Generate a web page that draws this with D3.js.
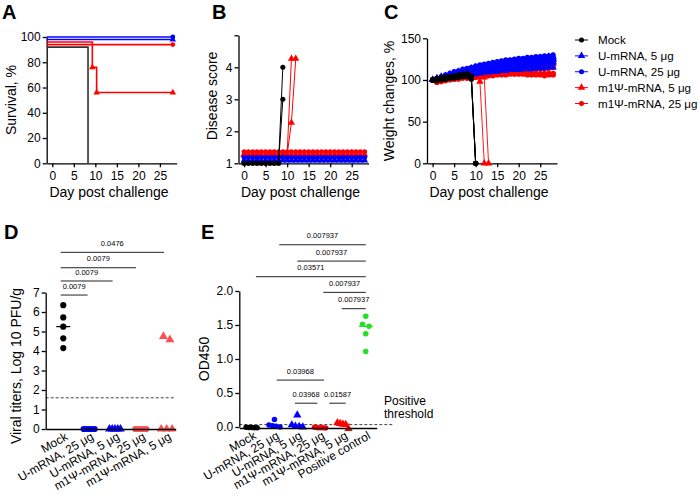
<!DOCTYPE html>
<html><head><meta charset="utf-8">
<script src="https://cdn.jsdelivr.net/npm/d3@7/dist/d3.min.js"></script>
<style>
body{margin:0;background:#fff;}
svg text{font-family:Arial,"Liberation Sans",Helvetica,sans-serif;}
</style></head><body>
<svg id="chart" width="700" height="500"></svg>
<script>
// ================= DATA =================
const groupNames = ["Mock","U-mRNA, 5 μg","U-mRNA, 25 μg","m1Ψ-mRNA, 5 μg","m1Ψ-mRNA, 25 μg"];
const groupKeys  = ["mock","u5","u25","m5","m25"];
const dayTicks = [0,5,10,15,20,25];
const days = [0,1,2,3,4,5,6,7,8,9,10,11,12,13,14,15,16,17,18,19,20,21,22,23,24,25,26,27,28];

// A: survival (day, %) step points per group
const survMockDays = [0, 8.3];          const survMockPct = [100, 0];
const survU5Days   = [0, 28];           const survU5Pct   = [100, 100];
const survU25Days  = [0, 28];           const survU25Pct  = [100, 100];
const survM5Days   = [0, 9.3, 10.3, 28];const survM5Pct   = [100, 80, 60, 60];
const survM25Days  = [0, 28];           const survM25Pct  = [100, 100];
const survNudge = [-8, -2, 0, -4, -6];   // offsets the figure uses to separate overlapping curves
const survTicks = [0,20,40,60,80,100];

// B: disease score per mouse (index = day)
const scoreMock1 = [1,1,1,1,1,1,1,1,1,4];
const scoreMock2 = [1,1,1,1,1,1,1,1,1,3];
const scoreU5    = [1,1,1,1,1,1,1,1,1,1,1,1,1,1,1,1,1,1,1,1,1,1,1,1,1,1,1,1,1];
const scoreU25   = [1,1,1,1,1,1,1,1,1,1,1,1,1,1,1,1,1,1,1,1,1,1,1,1,1,1,1,1,1];
const scoreM5    = [1,1,1,1,1,1,1,1,1,1,1,1,1,1,1,1,1,1,1,1,1,1,1,1,1,1,1,1,1];
const scoreM5a   = [1,1,1,1,1,1,1,1,1,1,1,4];
const scoreM5b   = [1,1,1,1,1,1,1,1,1,1,1,2,4];
const scoreM25   = [1,1,1,1,1,1,1,1,1,1,1,1,1,1,1,1,1,1,1,1,1,1,1,1,1,1,1,1,1];
const scoreNudge = [0, 0.09, 0.18, 0.27, 0.36];
const scoreTicks = [1,2,3,4,5];

// C: weight change % per mouse (index = day)
const weightMock = [
 [100,101,102,101,103,104,104,105,106,104,0],
 [100,99,101,102,102,103,105,106,107,103,0],
 [100,102,103,104,103,105,106,107,108,105,0],
 [100,100,100,101,102,102,103,104,104,102,0],
 [100,101,101,103,104,103,104,106,105,101,0]
];
const weightU5 = [
 [100,101,103,104,106,107,108,109,110,111,113,114,115,116,117,118,118,119,120,121,122,122,123,123,124,125,125,126,126],
 [100,100,101,102,103,104,105,106,107,108,109,110,111,112,112,113,114,115,115,116,117,117,118,118,119,120,120,121,121],
 [100,102,104,105,107,108,110,111,112,114,115,116,117,118,119,120,121,121,122,123,124,124,125,125,126,127,127,128,128],
 [100,101,101,102,103,103,104,105,106,107,107,108,109,109,110,110,111,111,112,112,112,113,113,113,114,114,114,115,115],
 [100,101,102,103,104,105,106,107,108,109,110,111,112,113,114,115,115,116,117,118,119,119,120,121,122,122,123,124,124]
];
const weightU25 = [
 [100,101,103,104,105,107,108,109,110,112,113,114,115,116,117,118,119,120,121,122,122,123,124,124,125,126,126,127,127],
 [100,102,103,104,105,106,107,108,109,111,112,112,113,114,115,116,117,117,118,119,120,120,121,122,122,123,124,124,125],
 [100,101,102,103,104,104,105,106,107,108,109,110,111,112,113,113,114,115,115,116,117,118,118,119,120,120,121,121,122],
 [100,102,104,106,108,110,111,113,114,115,117,118,119,120,121,122,123,124,124,125,126,126,127,127,128,128,129,129,130],
 [100,101,102,102,103,104,105,106,106,107,108,109,110,110,111,112,113,113,114,115,115,116,117,117,118,118,119,119,120]
];
const weightM5 = [
 [100,101,102,103,104,105,106,107,107,106,104,98,0],
 [100,100,101,102,103,104,105,106,107,106,105,104,103,0],
 [100,101,102,103,105,106,108,110,111,111,112,112,113,114,115,116,117,117,118,119,120,120,121,122,122,123,124,124,125],
 [100,102,103,104,105,106,107,108,109,109,110,111,112,113,114,114,115,116,116,117,118,118,119,119,120,121,121,122,122],
 [100,101,101,102,103,104,105,106,106,107,108,109,110,111,111,112,113,113,114,115,115,116,116,117,117,118,118,119,119]
];
const weightM25 = [
 [100,98,99,100,101,102,102,103,103,104,104,105,105,106,106,107,107,107,108,108,108,108,108,107,107,107,106,107,107],
 [100,97,98,99,100,101,101,102,102,103,103,104,104,105,105,106,106,106,107,107,107,107,106,106,106,106,105,106,106],
 [100,99,100,101,102,103,104,105,106,106,107,107,108,109,109,110,110,111,111,112,112,112,113,113,113,114,114,114,115],
 [100,98,99,100,101,101,102,103,103,104,105,105,106,106,107,107,108,108,108,109,109,109,109,108,108,108,108,108,108],
 [100,100,101,102,103,104,105,106,107,108,109,110,111,112,113,114,115,115,116,117,117,118,118,119,119,120,120,120,121]
];
const weightTicks = [0,50,100,150];

// D: viral titers (log10 PFU/g)
const titerCats = ["Mock","U-mRNA, 25 μg","U-mRNA, 5 μg","m1Ψ-mRNA, 25 μg","m1Ψ-mRNA, 5 μg"];
const titerMock = [6.35,5.72,5.25,4.65,4.15];
const titerU25  = [0,0,0,0,0];
const titerU5   = [0,0,0,0,0];
const titerM25  = [0,0,0,0,0];
const titerM5   = [4.75,4.58,0,0,0];
const titerLOD  = 1.6;
const titerTicks = [0,1,2,3,4,5,6,7];
const sigDFrom  = ["Mock","Mock","Mock","Mock"];
const sigDTo    = ["U-mRNA, 25 μg","U-mRNA, 5 μg","m1Ψ-mRNA, 25 μg","m1Ψ-mRNA, 5 μg"];
const sigDP     = ["0.0079","0.0079","0.0079","0.0476"];
const sigDLevel = [6.87, 7.59, 8.27, 9.06];

// E: OD450
const odCats = ["Mock","U-mRNA, 25 μg","U-mRNA, 5 μg","m1Ψ-mRNA, 25 μg","m1Ψ-mRNA, 5 μg","Positive control"];
const odMock = [-0.01,-0.005,-0.01,-0.008,-0.006];
const odU25  = [0.11,0.03,0.02,0.01,0.0];
const odU5   = [0.175,0.03,0.01,0.005,0.0];
const odM25  = [-0.01,-0.01,-0.005,-0.015,-0.01];
const odM5   = [0.06,0.05,0.04,0.035,-0.025];
const odPC   = [1.63,1.51,1.48,1.37,1.11];
const odThreshold = 0.035;
const odTicks = [0,0.5,1.0,1.5,2.0];
const sigEFrom  = ["U-mRNA, 25 μg","U-mRNA, 5 μg","Mock","m1Ψ-mRNA, 25 μg","m1Ψ-mRNA, 5 μg","U-mRNA, 25 μg","U-mRNA, 5 μg","m1Ψ-mRNA, 25 μg"];
const sigETo    = ["Positive control","Positive control","Positive control","Positive control","Positive control","m1Ψ-mRNA, 25 μg","m1Ψ-mRNA, 25 μg","m1Ψ-mRNA, 5 μg"];
const sigEP     = ["0.007937","0.007937","0.03571","0.007937","0.007937","0.03968","0.03968","0.01587"];
const sigELevel = [2.68, 2.44, 2.21, 1.98, 1.74, 0.69, 0.35, 0.35];

// ================= STYLE / LAYOUT =================
const FONT = 'Arial, "Liberation Sans", Helvetica, sans-serif';
const BLUE = "#0000ff", RED = "#ff0000", GREEN = "#22e022";
const gColor = {mock:"#000000", u5:BLUE, u25:BLUE, m5:RED, m25:RED};
const gSym = {mock:d3.symbolCircle, u5:d3.symbolTriangle, u25:d3.symbolCircle, m5:d3.symbolTriangle, m25:d3.symbolCircle};
// pixel trims of the comparison bar ends (as drawn in the figure)
const sigDTrim = [[-2.6,-1.5],[-2.6,-2.3],[-2.6,-4.8],[-2.6,-2.7]];
const sigETrim = [[4.8,0],[0,0],[4.3,0],[3.2,0],[-1.2,0],[2.2,3.9],[-2.3,-2.8],[9.2,2.8]];
const svg = d3.select("#chart");

function styleAxis(g){
  g.attr("font-family", FONT).attr("font-size", 12);
  g.selectAll("path.domain").attr("stroke","#000").attr("stroke-width",1.3);
  g.selectAll(".tick line").attr("stroke","#000").attr("stroke-width",1.3);
  g.selectAll(".tick text").attr("fill","#000");
}
function label(x, y, str, size, opts={}){
  const t = svg.append("text").attr("x",x).attr("y",y).text(str)
    .attr("font-size",size).attr("fill","#000")
    .attr("text-anchor", opts.anchor || "start");
  if (opts.bold) t.attr("font-weight","bold");
  if (opts.rotate) t.attr("transform",`rotate(${opts.rotate},${x},${y})`);
  return t;
}
function sym(g, type, size, x, y, color){
  g.append("path").attr("d", d3.symbol().type(type).size(size)())
   .attr("transform",`translate(${x},${y})`).attr("fill",color);
}

// ================= PANEL A =================
const xA = d3.scaleLinear().domain([-1.3, 28.9]).range([46.7, 176.7]);
const yA = d3.scaleLinear().domain([0, 100]).range([163.3, 37]);
svg.append("g").attr("transform",`translate(0,${yA(0)})`)
  .call(d3.axisBottom(xA).tickValues(dayTicks).tickSize(4).tickSizeOuter(0).tickPadding(4)).call(styleAxis);
svg.append("g").attr("transform",`translate(${xA.range()[0]},0)`)
  .call(d3.axisLeft(yA).tickValues(survTicks).tickSize(4).tickSizeOuter(0).tickPadding(2)).call(styleAxis);

const survSets = [
  {k:"mock", d:survMockDays, p:survMockPct, n:survNudge[0]},
  {k:"u5",   d:survU5Days,   p:survU5Pct,   n:survNudge[1]},
  {k:"u25",  d:survU25Days,  p:survU25Pct,  n:survNudge[2]},
  {k:"m5",   d:survM5Days,   p:survM5Pct,   n:survNudge[3]},
  {k:"m25",  d:survM25Days,  p:survM25Pct,  n:survNudge[4]}
];
const gA = svg.append("g");
const stepLine = d3.line().curve(d3.curveStepAfter);
survSets.slice().reverse().forEach(s => {
  const pts = s.d.map((d,i) => [i===0 ? xA.domain()[0] : d, Math.max(0, s.p[i] + s.n)]);
  gA.append("path").attr("d", stepLine(pts.map(q => [xA(q[0]), yA(q[1])])))
    .attr("fill","none").attr("stroke", s.k==="mock" ? "#333" : gColor[s.k]).attr("stroke-width",1.6);
  if (s.k !== "mock") {
    s.d.forEach((d,i) => { if (i>0) sym(gA, gSym[s.k], 18, xA(d), yA(Math.max(0, s.p[i]+s.n)), gColor[s.k]); });
  }
});
label(2, 19, "A", 20, {bold:true});
label(15.5, 100, "Survival, %", 14, {anchor:"middle", rotate:-90});
label(109, 196.5, "Day post challenge", 14, {anchor:"middle"});

// ================= PANEL B =================
const xB = d3.scaleLinear().domain([-1.3, 28.9]).range([238.5, 368.5]);
const yB = d3.scaleLinear().domain([1, 5]).range([163.3, 35.3]);
svg.append("g").attr("transform",`translate(0,${yB(1)})`)
  .call(d3.axisBottom(xB).tickValues(dayTicks).tickSize(4).tickSizeOuter(0).tickPadding(4)).call(styleAxis);
svg.append("g").attr("transform",`translate(${xB.range()[0]},0)`)
  .call(d3.axisLeft(yB).tickValues(scoreTicks).tickFormat(d => d===5 ? "" : d).tickSize(4).tickSizeOuter(0).tickPadding(2)).call(styleAxis);

const scoreSets = [
  {k:"m25", v:scoreM25, n:scoreNudge[4]},
  {k:"m5",  v:scoreM5,  n:scoreNudge[3]},
  {k:"m5",  v:scoreM5a, n:scoreNudge[3]},
  {k:"m5",  v:scoreM5b, n:scoreNudge[3]},
  {k:"u25", v:scoreU25, n:scoreNudge[2]},
  {k:"u5",  v:scoreU5,  n:scoreNudge[1]},
  {k:"mock",v:scoreMock1, n:scoreNudge[0]},
  {k:"mock",v:scoreMock2, n:scoreNudge[0]}
];
const gB = svg.append("g");
const lineB = d3.line().x((v,i) => xB(days[i]));
scoreSets.forEach(s => {
  gB.append("path").attr("d", lineB.y(v => yB(v + s.n))(s.v))
    .attr("fill","none").attr("stroke",gColor[s.k]).attr("stroke-width",1);
  s.v.forEach((v,i) => sym(gB, gSym[s.k], gSym[s.k]===d3.symbolCircle ? 20 : 22, xB(days[i]), yB(v + s.n), gColor[s.k]));
});
label(212, 19, "B", 20, {bold:true});
label(217, 96, "Disease score", 14, {anchor:"middle", rotate:-90});
label(300.5, 196.5, "Day post challenge", 14, {anchor:"middle"});

// ================= PANEL C =================
const xC = d3.scaleLinear().domain([-1.3, 28.9]).range([427, 557]);
const yC = d3.scaleLinear().domain([0, 150]).range([163.3, 38.3]);
svg.append("g").attr("transform",`translate(0,${yC(0)})`)
  .call(d3.axisBottom(xC).tickValues(dayTicks).tickSize(4).tickSizeOuter(0).tickPadding(4)).call(styleAxis);
svg.append("g").attr("transform",`translate(${xC.range()[0]},0)`)
  .call(d3.axisLeft(yC).tickValues(weightTicks).tickSize(4).tickSizeOuter(0).tickPadding(2)).call(styleAxis);

const weightSets = [
  {k:"m25", m:weightM25}, {k:"m5", m:weightM5}, {k:"u5", m:weightU5}, {k:"u25", m:weightU25}, {k:"mock", m:weightMock}
];
const gC = svg.append("g");
const lineC = d3.line().x((v,i) => xC(days[i])).y(v => yC(v));
weightSets.forEach(s => {
  s.m.forEach(mouse => {
    gC.append("path").attr("d", lineC(mouse)).attr("fill","none")
      .attr("stroke",gColor[s.k]).attr("stroke-width",0.9);
    mouse.forEach((v,i) => sym(gC, gSym[s.k], gSym[s.k]===d3.symbolCircle ? 22 : 24, xC(days[i]), yC(v), gColor[s.k]));
  });
});
label(384, 19, "C", 20, {bold:true});
label(394, 101, "Weight changes, %", 14, {anchor:"middle", rotate:-90});
label(489, 196.5, "Day post challenge", 14, {anchor:"middle"});

// legend
const legY = d3.scalePoint().domain(groupKeys).range([40, 103.5]);
groupKeys.forEach((k,i) => {
  const y = legY(k);
  svg.append("line").attr("x1",575).attr("x2",588).attr("y1",y).attr("y2",y)
     .attr("stroke",gColor[k]).attr("stroke-width",1);
  sym(svg, gSym[k], gSym[k]===d3.symbolCircle ? 20 : 24, 581.5, y, gColor[k]);
  label(598, y, groupNames[i], 11.6).attr("dy","0.36em");
});

// ============ dot plot helpers (D, E) ============
function swarm(vals, y, cx){
  const pts = vals.map(v => ({v, py:y(v)})).sort((a,b) => a.py - b.py);
  const clusters = [];
  pts.forEach(p => {
    const last = clusters[clusters.length-1];
    if (last && p.py - last[last.length-1].py < 5) last.push(p); else clusters.push([p]);
  });
  clusters.forEach(c => {
    const n = c.length, sp = n>1 ? Math.min(6.5, 11/(n-1)) : 0;
    c.forEach((p,i) => p.px = cx + (i-(n-1)/2)*sp);
  });
  return pts;
}
function rotatedCatAxis(g){
  g.selectAll(".tick text").attr("x",0).attr("y",0).attr("dy",0)
   .attr("transform","translate(5,10) rotate(-30)").style("text-anchor","end");
}
function sigBars(g, x, y, from, to, p, lvl, trim){
  from.forEach((f,i) => {
    const x1 = x(f) + trim[i][0], x2 = x(to[i]) + trim[i][1], yy = y(lvl[i]);
    g.append("line").attr("x1",x1).attr("x2",x2).attr("y1",yy).attr("y2",yy)
     .attr("stroke","#222").attr("stroke-width",1);
    g.append("text").attr("x",(x1+x2)/2).attr("y",yy-6.3).attr("text-anchor","middle")
     .attr("font-size",7.5).attr("fill","#000").text(p[i]);
  });
}

// ================= PANEL D =================
const xD = d3.scalePoint().domain(titerCats).range([45.7, 175.7]).padding(0.515).align(0.66);
const yD = d3.scaleLinear().domain([0, 7]).range([429, 292.5]);
const gD = svg.append("g");
gD.append("line").attr("x1",xD.range()[0]).attr("x2",xD.range()[1]).attr("y1",yD(titerLOD)).attr("y2",yD(titerLOD))
  .attr("stroke","#444").attr("stroke-width",1).attr("stroke-dasharray","3,2");
svg.append("g").attr("transform",`translate(0,${yD(0)})`)
  .call(d3.axisBottom(xD).tickSize(0).tickSizeOuter(0)).call(styleAxis).call(rotatedCatAxis);
svg.append("g").attr("transform",`translate(${xD.range()[0]},0)`)
  .call(d3.axisLeft(yD).tickValues(titerTicks).tickFormat(d3.format("d")).tickSize(4).tickSizeOuter(0).tickPadding(2)).call(styleAxis);
const titerSets = [
  {c:titerCats[0], k:"mock", v:titerMock, col:"#000"},
  {c:titerCats[1], k:"u25",  v:titerU25,  col:BLUE},
  {c:titerCats[2], k:"u5",   v:titerU5,   col:BLUE},
  {c:titerCats[3], k:"m25",  v:titerM25,  col:"#ff5050"},
  {c:titerCats[4], k:"m5",   v:titerM5,   col:"#ff5050"}
];
titerSets.forEach(s => {
  const cx = xD(s.c), med = d3.median(s.v);
  gD.append("line").attr("x1",cx-7).attr("x2",cx+7).attr("y1",yD(med)).attr("y2",yD(med))
    .attr("stroke",s.col).attr("stroke-width",1.2);
  swarm(s.v, yD, cx).forEach(p => sym(gD, gSym[s.k], gSym[s.k]===d3.symbolCircle ? 30 : 34, p.px, p.py, s.col));
});
sigBars(gD, xD, yD, sigDFrom, sigDTo, sigDP, sigDLevel, sigDTrim);
label(4, 239, "D", 20, {bold:true});
label(21, 366, "Viral titers, Log 10 PFU/g", 14, {anchor:"middle", rotate:-90});

// ================= PANEL E =================
const xE = d3.scalePoint().domain(odCats).range([239.3, 376.7]).padding(0.51).align(0.53);
const yE = d3.scaleLinear().domain([0, 2]).range([427, 291]);
const gE = svg.append("g");
gE.append("line").attr("x1",xE.range()[0]).attr("x2",393).attr("y1",yE(odThreshold)).attr("y2",yE(odThreshold))
  .attr("stroke","#444").attr("stroke-width",1).attr("stroke-dasharray","3,2");
svg.append("g").attr("transform",`translate(0,${yE(0)+1})`)
  .call(d3.axisBottom(xE).tickSize(0).tickSizeOuter(0)).call(styleAxis).call(rotatedCatAxis);
svg.append("g").attr("transform",`translate(${xE.range()[0]},0)`)
  .call(d3.axisLeft(yE).tickValues(odTicks).tickFormat(d3.format(".1f")).tickSize(4).tickSizeOuter(0).tickPadding(2)).call(styleAxis);
const odSets = [
  {c:odCats[0], k:"mock", v:odMock, col:"#000"},
  {c:odCats[1], k:"u25",  v:odU25,  col:BLUE},
  {c:odCats[2], k:"u5",   v:odU5,   col:BLUE},
  {c:odCats[3], k:"m25",  v:odM25,  col:RED},
  {c:odCats[4], k:"m5",   v:odM5,   col:RED},
  {c:odCats[5], k:"pc",   v:odPC,   col:GREEN}
];
odSets.forEach(s => {
  const cx = xE(s.c), med = d3.median(s.v);
  const type = s.k==="pc" ? d3.symbolCircle : gSym[s.k];
  gE.append("line").attr("x1",cx-7).attr("x2",cx+7).attr("y1",yE(med)).attr("y2",yE(med))
    .attr("stroke",s.col).attr("stroke-width",1.2);
  swarm(s.v, yE, cx).forEach(p => sym(gE, type, type===d3.symbolCircle ? 24 : 30, p.px, p.py, s.col));
});
sigBars(gE, xE, yE, sigEFrom, sigETo, sigEP, sigELevel, sigETrim);
label(384, 404.5, "Positive", 12);
label(384, 418, "threshold", 12);
label(201, 239, "E", 20, {bold:true});
label(208.5, 359, "OD450", 14, {anchor:"middle", rotate:-90});
</script>
</body></html>
